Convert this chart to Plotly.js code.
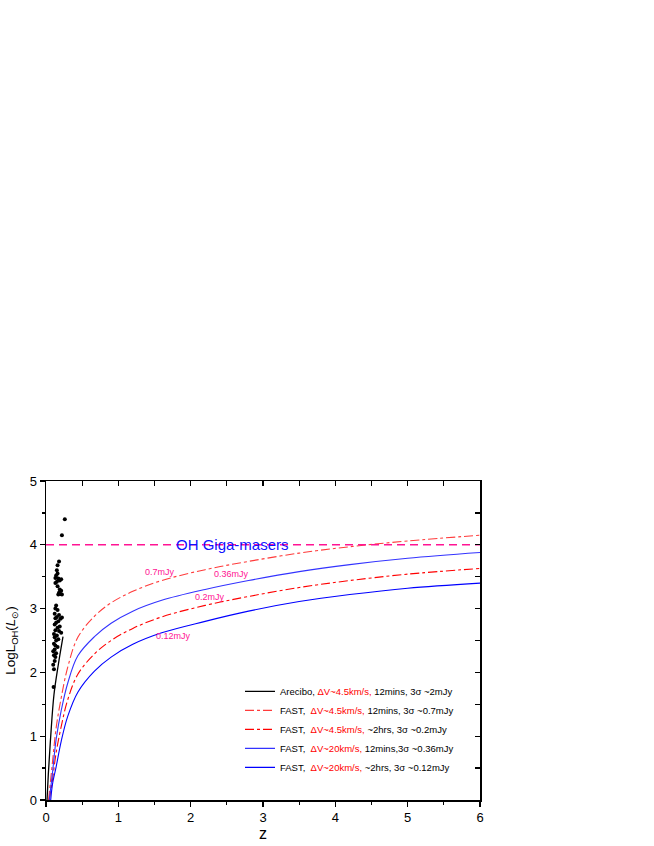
<!DOCTYPE html>
<html>
<head>
<meta charset="utf-8">
<script src="https://cdn.plot.ly/plotly-3.0.1.min.js"></script>
<style>
body { margin: 0; background: white; }
#chart { width: 654px; height: 846px; }
</style>
</head>
<body>
<div id="chart"></div>
<script>
// OH megamaser sources (z, LogL_OH)
var srcZ = [0.26, 0.22, 0.18, 0.16, 0.15, 0.16, 0.14, 0.13, 0.17, 0.21, 0.19, 0.15, 0.13, 0.16, 0.19, 0.21, 0.18, 0.20, 0.17, 0.22,
            0.14, 0.13, 0.16, 0.12, 0.18, 0.15, 0.13, 0.20, 0.22, 0.17, 0.14, 0.12, 0.19, 0.16, 0.13, 0.18, 0.21, 0.11, 0.15, 0.12,
            0.17, 0.14, 0.11, 0.13, 0.16, 0.12, 0.10, 0.14, 0.11, 0.13, 0.12, 0.10, 0.11, 0.105];
var srcL = [4.40, 4.15, 3.74, 3.68, 3.60, 3.55, 3.52, 3.48, 3.47, 3.46, 3.44, 3.42, 3.40, 3.35, 3.30, 3.28, 3.25, 3.23, 3.22, 3.22,
            3.05, 3.00, 2.98, 2.92, 2.90, 2.87, 2.85, 2.84, 2.86, 2.80, 2.78, 2.75, 2.72, 2.70, 2.66, 2.65, 2.62, 2.60, 2.58, 2.55,
            2.52, 2.50, 2.45, 2.42, 2.40, 2.36, 2.33, 2.30, 2.27, 2.24, 2.18, 2.12, 2.05, 1.77];

// Arecibo 3 sigma ~2mJy
var areZ = [0.014, 0.032, 0.064, 0.11, 0.17, 0.235];
var areL = [0, 0.40, 0.98, 1.65, 2.12, 2.56];

// FAST sensitivity curves
var f07Z = [0.035, 0.09, 0.14, 0.21, 0.30, 0.44, 0.67, 0.90, 1.2, 1.6, 2.2, 2.8, 3.5, 4.2, 5.0, 6.0];
var f07L = [0, 0.60, 1.13, 1.60, 2.08, 2.55, 2.88, 3.09, 3.27, 3.44, 3.61, 3.74, 3.87, 3.97, 4.06, 4.15];
var f02Z = [0.045, 0.09, 0.14, 0.21, 0.30, 0.44, 0.67, 0.90, 1.2, 1.6, 2.2, 2.8, 3.5, 4.2, 5.0, 6.0];
var f02L = [0, 0.32, 0.74, 1.15, 1.57, 1.97, 2.29, 2.50, 2.69, 2.87, 3.05, 3.19, 3.33, 3.44, 3.54, 3.63];
var f036Z = [0.045, 0.09, 0.14, 0.21, 0.30, 0.44, 0.67, 0.90, 1.2, 1.6, 2.2, 2.8, 3.5, 4.2, 5.0, 6.0];
var f036L = [0, 0.43, 0.95, 1.40, 1.83, 2.26, 2.56, 2.77, 2.96, 3.13, 3.30, 3.44, 3.58, 3.69, 3.79, 3.88];
var f012Z = [0.065, 0.09, 0.14, 0.21, 0.30, 0.44, 0.67, 0.90, 1.2, 1.6, 2.2, 2.8, 3.5, 4.2, 5.0, 6.0];
var f012L = [0, 0.25, 0.52, 0.92, 1.31, 1.69, 2.02, 2.24, 2.44, 2.62, 2.80, 2.96, 3.11, 3.22, 3.32, 3.40];

// OH Giga-maser threshold
var gigaZ = [0, 6];
var gigaL = [4, 4];

var red = '<span style="color:#ff0000">';
var names = [
    'Arecibo, ' + red + 'ΔV~4.5km/s,</span> 12mins, 3σ ~2mJy',
    'FAST, \u00a0' + red + 'ΔV~4.5km/s,</span> 12mins, 3σ ~0.7mJy',
    'FAST, \u00a0' + red + 'ΔV~4.5km/s,</span> ~2hrs, 3σ ~0.2mJy',
    'FAST, \u00a0' + red + 'ΔV~20km/s,</span> 12mins,3σ ~0.36mJy',
    'FAST, \u00a0' + red + 'ΔV~20km/s,</span> ~2hrs, 3σ ~0.12mJy'
];

var curveLabels = ['0.7mJy', '0.36mJy', '0.2mJy', '0.12mJy'];
var labelZ = [1.58, 2.56, 2.27, 1.76];
var labelL = [3.58, 3.55, 3.18, 2.57];

var data = [
    {x: srcZ, y: srcL, mode: 'markers', showlegend: false, hoverinfo: 'skip',
     marker: {color: 'black', size: 4}},
    {x: areZ, y: areL, mode: 'lines', name: names[0], line: {color: 'black', width: 1.3, shape: 'spline'}},
    {x: f07Z, y: f07L, mode: 'lines', name: names[1], line: {color: '#ff3b3b', width: 1.1, dash: 'dashdot', shape: 'spline'}},
    {x: f02Z, y: f02L, mode: 'lines', name: names[2], line: {color: '#ff0000', width: 1.1, dash: 'dashdot', shape: 'spline'}},
    {x: f036Z, y: f036L, mode: 'lines', name: names[3], line: {color: '#3333ff', width: 1.1, shape: 'spline'}},
    {x: f012Z, y: f012L, mode: 'lines', name: names[4], line: {color: '#0000ff', width: 1.1, shape: 'spline'}},
    {x: gigaZ, y: gigaL, mode: 'lines', showlegend: false, xaxis: 'x2', yaxis: 'y2',
     line: {color: '#ff1493', width: 1.6, dash: '8px,5px'}}
];

var annotations = [{
    x: 2.58, y: 4.0, xref: 'x', yref: 'y', text: 'OH Giga-masers', showarrow: false,
    font: {family: 'Arial, Liberation Sans', size: 15, color: '#1010ff'}
}];
for (var i = 0; i < curveLabels.length; i++) {
    annotations.push({
        x: labelZ[i], y: labelL[i], xref: 'x', yref: 'y', text: curveLabels[i], showarrow: false,
        font: {family: 'Arial, Liberation Sans', size: 9, color: '#ff1493'}
    });
}

var tickFont = {family: 'Arial, Liberation Sans', size: 13, color: 'black'};
var layout = {
    width: 654, height: 846,
    margin: {l: 46, r: 174, t: 481, b: 46},
    paper_bgcolor: 'white', plot_bgcolor: 'white',
    font: {family: 'Arial, Liberation Sans', color: 'black'},
    showlegend: true,
    legend: {x: 0.447, y: 0.386, xanchor: 'left', yanchor: 'top', bgcolor: 'rgba(0,0,0,0)',
             font: {size: 9.5, color: 'black'}, tracegroupgap: 0},
    xaxis: {
        range: [0, 6], dtick: 1, showgrid: false, zeroline: false,
        showline: true, linecolor: 'black', linewidth: 1.5,
        ticks: 'outside', ticklen: 5, tickwidth: 1.2, tickcolor: 'black', tickfont: tickFont,
        minor: {dtick: 0.5, ticks: 'outside', ticklen: 3, tickwidth: 1.2, tickcolor: 'black'},
        title: {text: 'z', font: {size: 16}, standoff: 0}
    },
    yaxis: {
        range: [0, 5], dtick: 1, showgrid: false, zeroline: false,
        showline: true, linecolor: 'black', linewidth: 1.5,
        ticks: 'outside', ticklen: 5, tickwidth: 1.2, tickcolor: 'black', tickfont: tickFont,
        minor: {dtick: 0.5, ticks: 'outside', ticklen: 3, tickwidth: 1.2, tickcolor: 'black'},
        title: {text: 'LogL<sub>OH</sub>(<i>L</i><sub>⊙</sub>)', font: {size: 13.5}, standoff: 11}
    },
    xaxis2: {
        range: [0, 6], dtick: 1, overlaying: 'x', anchor: 'y2', side: 'top',
        showgrid: false, zeroline: false, showticklabels: false,
        showline: true, linecolor: 'black', linewidth: 1.5,
        ticks: 'inside', ticklen: 5, tickwidth: 1.2, tickcolor: 'black',
        minor: {dtick: 0.5, ticks: 'inside', ticklen: 5, tickwidth: 1.2, tickcolor: 'black'}
    },
    yaxis2: {
        range: [0, 5], dtick: 1, overlaying: 'y', anchor: 'x2', side: 'right',
        showgrid: false, zeroline: false, showticklabels: false,
        showline: true, linecolor: 'black', linewidth: 1.5,
        ticks: 'inside', ticklen: 5, tickwidth: 1.2, tickcolor: 'black',
        minor: {dtick: 0.5, ticks: 'inside', ticklen: 5, tickwidth: 1.2, tickcolor: 'black'}
    },
    annotations: annotations
};

Plotly.newPlot('chart', data, layout, {displayModeBar: false, staticPlot: true});
</script>
</body>
</html>
